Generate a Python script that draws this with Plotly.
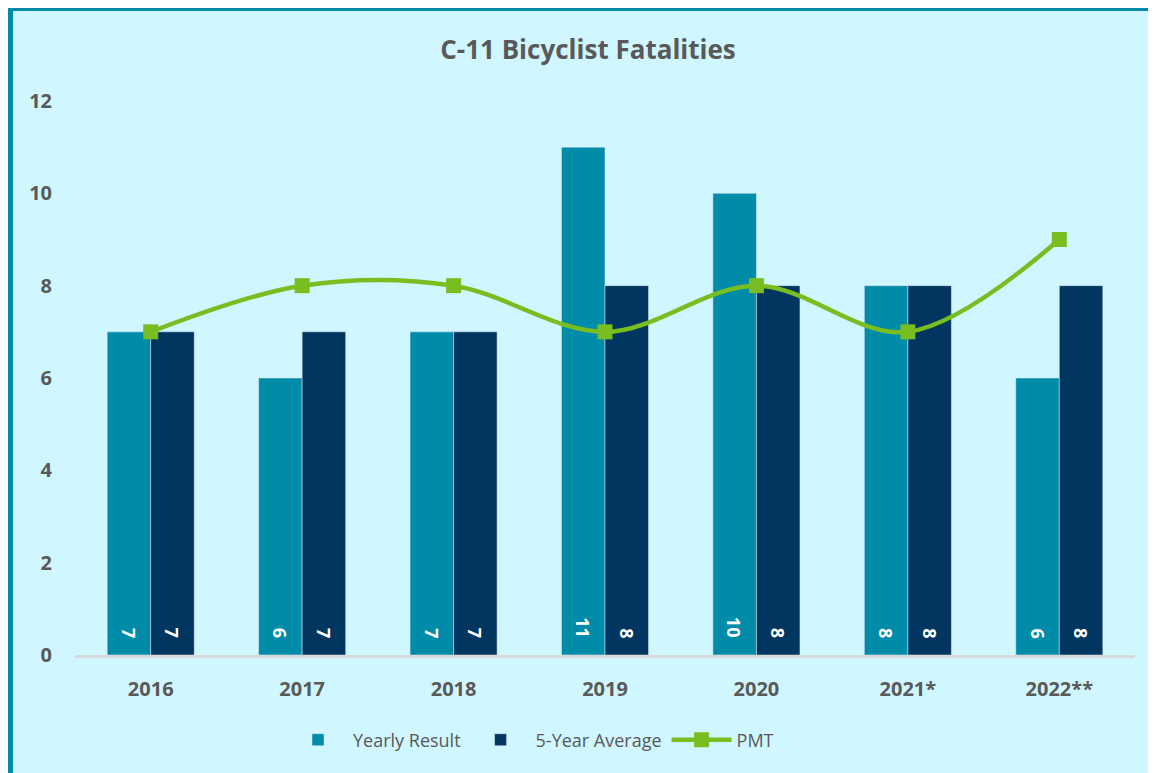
import plotly.graph_objects as go

years = ["2016", "2017", "2018", "2019", "2020", "2021*", "2022**"]
yearly_result = [7, 6, 7, 11, 10, 8, 6]
five_year_avg = [7, 7, 7, 8, 8, 8, 8]
pmt = [7, 8, 8, 7, 8, 7, 9]

TEAL = "#008CA8"
NAVY = "#003660"
GREEN = "#78BE20"
GRAY = "#595959"
BG = "#D0F6FF"
FONT = "Open Sans"

# page body has an 8px margin, so the figure is drawn 8px smaller
W, H = 1148, 765
L, R, T, B = 67, 21, 93, 118
pw, ph = W - L - R, H - T - B

def px_x(p):
    return (p - L) / pw

def px_y(p):
    return (H - B - p) / ph

fig = go.Figure()
fig.add_trace(go.Bar(x=years, y=yearly_result, name="Yearly Result", marker_color=TEAL))
fig.add_trace(go.Bar(x=years, y=five_year_avg, name="5-Year Average", marker_color=NAVY))
fig.add_trace(go.Scatter(
    x=years, y=pmt, name="PMT", mode="lines+markers",
    line=dict(color=GREEN, width=4.5, shape="spline", smoothing=1),
    marker=dict(symbol="square", size=15, color=GREEN),
))

half_bar = pw / len(years) * (1 - 0.425) / 4
annotations = []
for vals, shift in ((yearly_result, -half_bar), (five_year_avg, half_bar)):
    for i, v in enumerate(vals):
        annotations.append(dict(
            x=i, y=0, xref="x", yref="y", text=f"<b>{v}</b>", showarrow=False,
            textangle=90, xanchor="center", yanchor="bottom",
            xshift=shift, yshift=15,
            font=dict(color="white", size=18, family=FONT),
        ))

fig.add_shape(
    type="rect", xref="paper", yref="paper", layer="below",
    x0=px_x(2.5), x1=px_x(W + 30), y0=px_y(H + 30), y1=px_y(0.5),
    line=dict(color="#008CA8", width=5), fillcolor=BG,
)

fig.update_layout(
    width=W, height=H,
    margin=dict(l=L, r=R, t=T, b=B),
    paper_bgcolor="white", plot_bgcolor="rgba(0,0,0,0)",
    barmode="group", bargap=0.425, bargroupgap=0,
    annotations=annotations,
    title=dict(text="<b>C-11 Bicyclist Fatalities</b>", x=px_x(580), xref="paper",
               xanchor="center", y=1 - 42 / H, yanchor="middle",
               font=dict(size=26, color=GRAY, family=FONT)),
    font=dict(family=FONT, color=GRAY),
    showlegend=True,
    legend=dict(orientation="h", x=px_x(275), xanchor="left",
                y=px_y(732), yanchor="middle", itemwidth=60,
                font=dict(size=18, color=GRAY, family=FONT),
                bgcolor="rgba(0,0,0,0)", traceorder="normal"),
    xaxis=dict(type="category", categoryorder="array", categoryarray=years,
               showline=True, linecolor="#D9D9D9", linewidth=2.5,
               tickfont=dict(size=20, color=GRAY, family=FONT, weight="bold"),
               ticks="", ticklabelstandoff=14, showgrid=False),
    yaxis=dict(range=[0, 12], dtick=2, showgrid=False, zeroline=False,
               showline=False, ticks="",
               tickfont=dict(size=20, color=GRAY, family=FONT, weight="bold"),
               ticklabelstandoff=22),
)

fig.write_html("out.html")
